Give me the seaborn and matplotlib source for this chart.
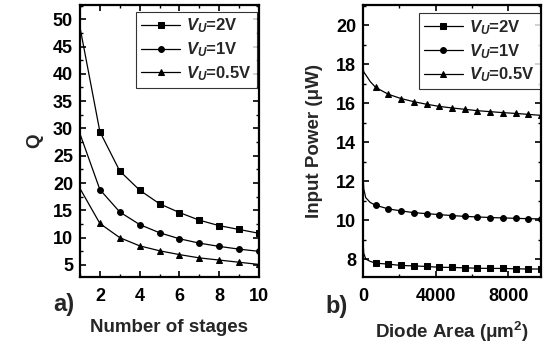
import matplotlib
matplotlib.use("Agg")
import matplotlib.pyplot as plt
import seaborn as sns
import pandas as pd
from matplotlib.ticker import MultipleLocator

sns.set_theme(style="ticks")
plt.rcParams["font.family"] = ["Liberation Sans", "DejaVu Sans"]
plt.rcParams["font.weight"] = "bold"
plt.rcParams["mathtext.fontset"] = "custom"
plt.rcParams["mathtext.it"] = "Liberation Sans:italic:bold"
plt.rcParams["mathtext.rm"] = "Liberation Sans:bold"

# (a) quality factor versus number of stages
stages = [1, 2, 3, 4, 5, 6, 7, 8, 9, 10]
q_2v = [48.5, 29.4, 22.2, 18.7, 16.2, 14.6, 13.2, 12.2, 11.5, 10.8]
q_1v = [29.0, 18.8, 14.7, 12.4, 10.9, 9.8, 9.0, 8.4, 7.9, 7.5]
q_05v = [19.0, 12.6, 10.0, 8.5, 7.6, 6.9, 6.3, 5.9, 5.5, 5.1]

# (b) input power versus diode area
area = [0, 40, 150, 400, 700, 1400, 2100, 2800, 3500, 4200, 4900,
        5600, 6300, 7000, 7700, 8400, 9100, 9800]
p_2v = [9.0, 8.3, 8.0, 7.88, 7.79, 7.74, 7.67, 7.65, 7.62, 7.58, 7.57,
        7.55, 7.53, 7.52, 7.52, 7.50, 7.49, 7.49]
p_1v = [12.4, 11.6, 11.15, 10.9, 10.76, 10.57, 10.47, 10.38, 10.33, 10.28,
        10.23, 10.19, 10.16, 10.13, 10.11, 10.09, 10.07, 10.06]
p_05v = [17.85, 17.6, 17.45, 17.1, 16.8, 16.45, 16.23, 16.07, 15.94, 15.83,
         15.75, 15.68, 15.61, 15.56, 15.51, 15.47, 15.42, 15.37]

labels = [r"$V_U$=2V", r"$V_U$=1V", r"$V_U$=0.5V"]
markers = ["s", "o", "^"]

fig = plt.figure(figsize=(5.51, 3.47), dpi=100)
ax_a = fig.add_axes([80 / 551, 70 / 347, 179 / 551, 272 / 347])
ax_b = fig.add_axes([363 / 551, 70 / 347, 178 / 551, 272 / 347])

line_kw = dict(color="black", linewidth=0.9, markersize=4.2,
               markeredgecolor="black", markerfacecolor="black")

for ys, lab, mk in zip([q_2v, q_1v, q_05v], labels, markers):
    df = pd.DataFrame({"x": stages, "y": ys})
    sns.lineplot(data=df, x="x", y="y", ax=ax_a, label=lab, marker=mk,
                 markevery=list(range(1, len(stages))), **line_kw)

marker_idx = list(range(4, len(area)))
for ys, lab, mk in zip([p_2v, p_1v, p_05v], labels, markers):
    df = pd.DataFrame({"x": area, "y": ys})
    sns.lineplot(data=df, x="x", y="y", ax=ax_b, label=lab, marker=mk,
                 markevery=marker_idx, **line_kw)

ax_a.set_xlim(1, 10)
ax_a.set_ylim(2.8, 52.6)
ax_a.xaxis.set_minor_locator(MultipleLocator(1))
ax_a.yaxis.set_minor_locator(MultipleLocator(2.5))
ax_a.set_xticks([2, 4, 6, 8, 10])
ax_a.set_yticks([5, 10, 15, 20, 25, 30, 35, 40, 45, 50])

ax_b.set_xlim(0, 9800)
ax_b.set_ylim(7.08, 21.03)
ax_b.xaxis.set_major_locator(MultipleLocator(4000))
ax_b.xaxis.set_minor_locator(MultipleLocator(2000))
ax_b.yaxis.set_minor_locator(MultipleLocator(1))
ax_b.set_yticks([8, 10, 12, 14, 16, 18, 20])

ax_a.set_xlabel("Number of stages", fontsize=13.5, fontweight="bold", labelpad=10)
ax_a.set_ylabel("Q", fontsize=13.5, fontweight="bold", labelpad=7)
ax_b.set_xlabel("Diode Area (\u03bcm$^2$)", fontsize=13.5, fontweight="bold", labelpad=11)
ax_b.set_ylabel("Input Power (\u03bcW)", fontsize=13.5, fontweight="bold", labelpad=9)

for ax in (ax_a, ax_b):
    for sp in ax.spines.values():
        sp.set_visible(True)
        sp.set_linewidth(1.6)
        sp.set_color("black")
    ax.tick_params(which="both", direction="in", top=True, right=True,
                   colors="black", labelsize=13)
    ax.tick_params(which="major", length=4, width=1.2)
    ax.tick_params(which="minor", length=2.5, width=1.0)
    for t in ax.get_xticklabels() + ax.get_yticklabels():
        t.set_fontweight("bold")
    ax.tick_params(axis="x", pad=8)
    ax.tick_params(axis="y", pad=5)

leg_kw = dict(loc="upper right", frameon=True, fancybox=False,
              prop={"weight": "bold", "size": 12}, borderpad=0.3,
              labelspacing=0.3, handletextpad=0.4)
leg_a = ax_a.legend(handlelength=2.3, bbox_to_anchor=(0.99, 0.975), borderaxespad=0, **leg_kw)
leg_b = ax_b.legend(handlelength=2.3, bbox_to_anchor=(0.994, 0.97), borderaxespad=0, **leg_kw)
for leg in (leg_a, leg_b):
    leg.get_frame().set_edgecolor("black")
    leg.get_frame().set_linewidth(0.8)

fig.text(53 / 551, 1 - 305 / 347, "a)", fontsize=17, fontweight="bold",
         ha="left", va="center")
fig.text(325 / 551, 1 - 307 / 347, "b)", fontsize=17, fontweight="bold",
         ha="left", va="center")

fig.savefig("out.png", dpi=100)
